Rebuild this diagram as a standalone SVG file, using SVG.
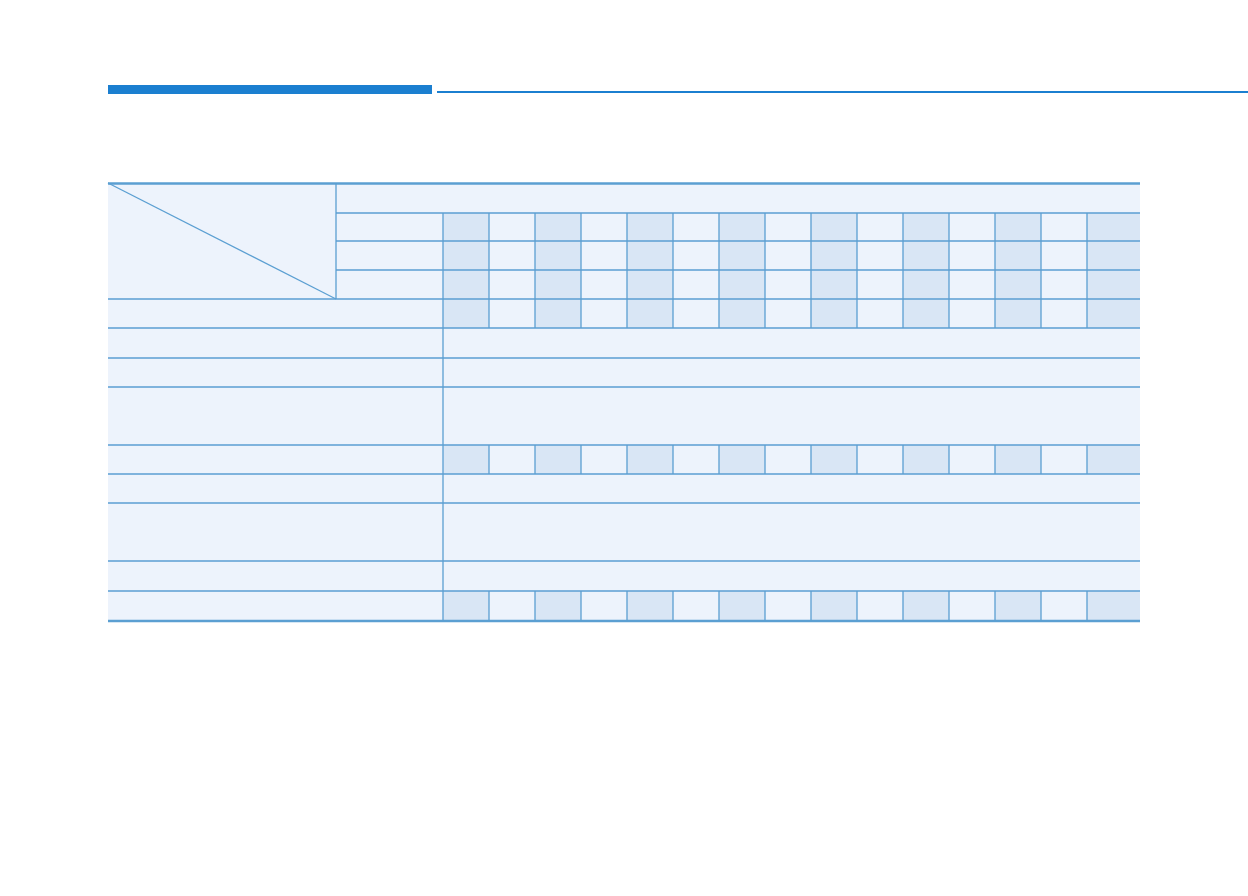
<svg xmlns="http://www.w3.org/2000/svg" width="1248" height="896" viewBox="0 0 1248 896">
<style>
.g{stroke:#5b9fd2;stroke-width:1.3;fill:none}
.sh{fill:#d9e6f5}
</style>
<rect width="1248" height="896" fill="#fff"/>
<g id="header">
<rect x="108" y="85" width="324" height="9" fill="#1b7fd0"/>
<rect x="437" y="91" width="811" height="2" fill="#1b7fd0"/>
</g>
<g id="table">
<rect x="108" y="183" width="1032" height="438" fill="#edf3fc"/>
<g id="shade">
<rect class="sh" x="443" y="213" width="46" height="115"/><rect class="sh" x="535" y="213" width="46" height="115"/><rect class="sh" x="627" y="213" width="46" height="115"/><rect class="sh" x="719" y="213" width="46" height="115"/><rect class="sh" x="811" y="213" width="46" height="115"/><rect class="sh" x="903" y="213" width="46" height="115"/><rect class="sh" x="995" y="213" width="46" height="115"/><rect class="sh" x="1087" y="213" width="53" height="115"/>
<rect class="sh" x="443" y="445" width="46" height="29"/><rect class="sh" x="535" y="445" width="46" height="29"/><rect class="sh" x="627" y="445" width="46" height="29"/><rect class="sh" x="719" y="445" width="46" height="29"/><rect class="sh" x="811" y="445" width="46" height="29"/><rect class="sh" x="903" y="445" width="46" height="29"/><rect class="sh" x="995" y="445" width="46" height="29"/><rect class="sh" x="1087" y="445" width="53" height="29"/>
<rect class="sh" x="443" y="591" width="46" height="30"/><rect class="sh" x="535" y="591" width="46" height="30"/><rect class="sh" x="627" y="591" width="46" height="30"/><rect class="sh" x="719" y="591" width="46" height="30"/><rect class="sh" x="811" y="591" width="46" height="30"/><rect class="sh" x="903" y="591" width="46" height="30"/><rect class="sh" x="995" y="591" width="46" height="30"/><rect class="sh" x="1087" y="591" width="53" height="30"/>
</g>
<g id="connectors" class="g">
<path d="M108 183.5H1140" stroke-width="2.5"/>
<path d="M108 621H1140" stroke-width="2.5"/>
<path d="M336 213H1140M336 241H1140M336 270H1140"/>
<path d="M108 299H1140M108 328H1140M108 358H1140M108 387H1140M108 445H1140M108 474H1140M108 503H1140M108 561H1140M108 591H1140"/>
<path d="M336 183V299M443 213V621"/>
<path d="M108 183L336 299"/>
<path d="M489 213V328M535 213V328M581 213V328M627 213V328M673 213V328M719 213V328M765 213V328M811 213V328M857 213V328M903 213V328M949 213V328M995 213V328M1041 213V328M1087 213V328"/>
<path d="M489 445V474M535 445V474M581 445V474M627 445V474M673 445V474M719 445V474M765 445V474M811 445V474M857 445V474M903 445V474M949 445V474M995 445V474M1041 445V474M1087 445V474"/>
<path d="M489 591V621M535 591V621M581 591V621M627 591V621M673 591V621M719 591V621M765 591V621M811 591V621M857 591V621M903 591V621M949 591V621M995 591V621M1041 591V621M1087 591V621"/>
</g>
</g>
</svg>
